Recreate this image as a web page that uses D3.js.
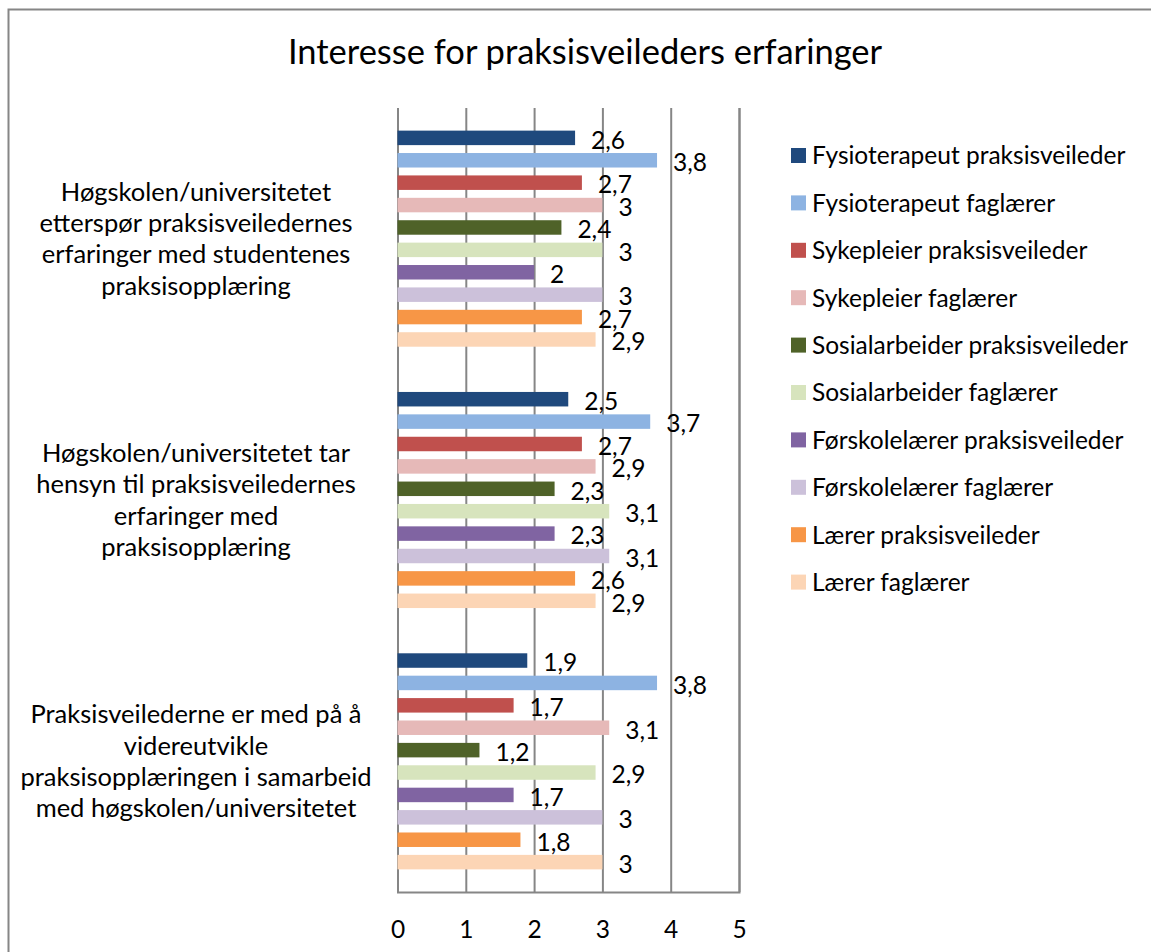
<!DOCTYPE html>
<html>
<head>
<meta charset="utf-8">
<script src="https://cdn.jsdelivr.net/npm/d3@7"></script>
<style>
  body { margin: 0; background: #fff; }
  text { font-family: Lato, "Open Sans", sans-serif; fill: #000; }
</style>
</head>
<body>
<svg id="chart" width="1151" height="952"></svg>
<script>
// data
const categories = [
  "Høgskolen/universitetet etterspør praksisveiledernes erfaringer med studentenes praksisopplæring",
  "Høgskolen/universitetet tar hensyn til praksisveiledernes erfaringer med praksisopplæring",
  "Praksisveilederne er med på å videreutvikle praksisopplæringen i samarbeid med høgskolen/universitetet"
];
// line breaks as in the picture
const categoryLines = [
  ["Høgskolen/universitetet", "etterspør praksisveiledernes", "erfaringer med studentenes", "praksisopplæring"],
  ["Høgskolen/universitetet tar", "hensyn til praksisveiledernes", "erfaringer med", "praksisopplæring"],
  ["Praksisveilederne er med på å", "videreutvikle", "praksisopplæringen i samarbeid", "med høgskolen/universitetet"]
];
const seriesNames = [
  "Fysioterapeut praksisveileder",
  "Fysioterapeut faglærer",
  "Sykepleier praksisveileder",
  "Sykepleier faglærer",
  "Sosialarbeider praksisveileder",
  "Sosialarbeider faglærer",
  "Førskolelærer praksisveileder",
  "Førskolelærer faglærer",
  "Lærer praksisveileder",
  "Lærer faglærer"
];
const seriesColors = ["#1F497D", "#8DB3E2", "#C0504D", "#E6B9B8", "#4F6228",
                      "#D7E4BD", "#8064A2", "#CCC1DA", "#F79646", "#FCD5B5"];
// one row per category, one value per series
const values = [
  [2.6, 3.8, 2.7, 3.0, 2.4, 3.0, 2.0, 3.0, 2.7, 2.9],
  [2.5, 3.7, 2.7, 2.9, 2.3, 3.1, 2.3, 3.1, 2.6, 2.9],
  [1.9, 3.8, 1.7, 3.1, 1.2, 2.9, 1.7, 3.0, 1.8, 3.0]
];
const xTicks = [0, 1, 2, 3, 4, 5];

const svg = d3.select("#chart");
const fmt = v => String(v).replace(".", ",");

// outer frame (runs off the picture on right and bottom)
svg.append("rect")
  .attr("x", 8.5).attr("y", 9.5)
  .attr("width", 1170).attr("height", 970)
  .attr("fill", "none").attr("stroke", "#868686").attr("stroke-width", 2);

// title
svg.append("text")
  .attr("x", 585).attr("y", 64)
  .attr("text-anchor", "middle")
  .style("font-size", "34.5px")
  .text("Interesse for praksisveileders erfaringer");

const x = d3.scaleLinear().domain([0, 5]).range([397.5, 739]);
const y = d3.scaleBand().domain(d3.range(categories.length)).range([108, 892]);
const yInner = d3.scaleBand().domain(d3.range(seriesNames.length))
  .range([0, y.bandwidth()])
  .paddingInner(0.353).paddingOuter(1.01);

// gridlines + bottom axis
const axis = svg.append("g")
  .attr("transform", "translate(0,892)")
  .call(d3.axisBottom(x).tickValues(xTicks).tickSize(-784).tickPadding(29).tickFormat(d => d));
axis.select(".domain").attr("stroke", "#868686").attr("stroke-width", 2);
axis.selectAll(".tick line").attr("stroke", "#868686").attr("stroke-width", 2);
axis.selectAll(".tick text")
  .style("font-family", "Lato, sans-serif").style("font-size", "24.5px").attr("fill", "#000");

// bars
const groups = svg.append("g").selectAll("g")
  .data(values)
  .join("g")
  .attr("transform", (d, i) => `translate(0,${y(i)})`);

groups.selectAll("rect")
  .data(d => d)
  .join("rect")
  .attr("x", x(0))
  .attr("y", (d, i) => yInner(i))
  .attr("width", d => x(d) - x(0))
  .attr("height", yInner.bandwidth())
  .attr("fill", (d, i) => seriesColors[i]);

// data labels
groups.selectAll("text")
  .data(d => d)
  .join("text")
  .attr("x", d => x(d) + 16)
  .attr("y", (d, i) => yInner(i) + yInner.bandwidth() / 2 + 2)
  .attr("dy", "0.36em")
  .style("font-size", "24.5px")
  .text(d => fmt(d));

// category labels
categoryLines.forEach((lines, i) => {
  const cy = y(i) + y.bandwidth() / 2;
  const lh = 31.3;
  const t = svg.append("text")
    .attr("text-anchor", "middle")
    .style("font-size", "25.5px");
  lines.forEach((line, j) => {
    t.append("tspan")
      .attr("x", 196)
      .attr("y", cy + (j - (lines.length - 1) / 2) * lh + 9)
      .text(line);
  });
});

// legend
const legend = svg.append("g").selectAll("g")
  .data(seriesNames)
  .join("g")
  .attr("transform", (d, i) => `translate(791,${155.5 + i * 47.4})`);

legend.append("rect")
  .attr("x", 0).attr("y", -7.5)
  .attr("width", 15).attr("height", 15)
  .attr("fill", (d, i) => seriesColors[i]);

legend.append("text")
  .attr("x", 21).attr("dy", "0.36em")
  .style("font-size", "24.5px")
  .text(d => d);
</script>
</body>
</html>
